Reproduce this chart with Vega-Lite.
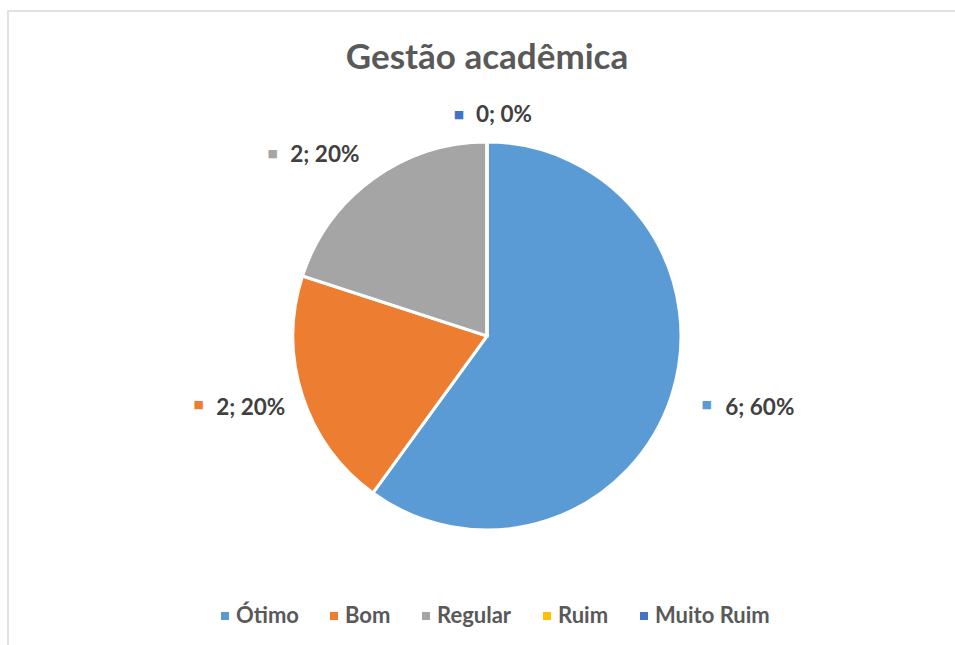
{
  "$schema": "https://vega.github.io/schema/vega-lite/v6.json",
  "width": 958,
  "height": 650,
  "autosize": {"type": "none"},
  "padding": {"left": 8, "top": 11, "right": -11, "bottom": -16},
  "background": "white",
  "view": {"stroke": "#D9D9D9", "strokeWidth": 1.5, "fill": "white"},
  "config": {"view": {"stroke": "#D9D9D9", "strokeWidth": 1.5}, "font": "Lato"},
  "title": {
    "text": "Gestão acadêmica",
    "font": "Lato",
    "fontSize": 35,
    "fontWeight": "bold",
    "color": "#595959",
    "anchor": "middle",
    "frame": "group",
    "offset": -93,
    "baseline": "alphabetic"
  },
  "data": {
    "values": [
      {"categoria": "Ótimo", "valor": 6, "rotulo": "6; 60%", "ordem": 1},
      {"categoria": "Bom", "valor": 2, "rotulo": "2; 20%", "ordem": 2},
      {"categoria": "Regular", "valor": 2, "rotulo": "2; 20%", "ordem": 3},
      {"categoria": "Ruim", "valor": 0, "rotulo": "0; 0%", "ordem": 4},
      {"categoria": "Muito Ruim", "valor": 0, "rotulo": "0; 0%", "ordem": 5}
    ]
  },
  "encoding": {
    "theta": {"field": "valor", "type": "quantitative", "stack": true},
    "order": {"field": "ordem", "type": "quantitative"},
    "color": {
      "field": "categoria",
      "type": "nominal",
      "scale": {
        "domain": ["Ótimo", "Bom", "Regular", "Ruim", "Muito Ruim"],
        "range": ["#5B9BD5", "#ED7D31", "#A5A5A5", "#FFC000", "#4472C4"]
      },
      "legend": {
        "orient": "none",
        "legendX": 206,
        "legendY": 594,
        "direction": "horizontal",
        "title": null,
        "symbolType": "square",
        "symbolSize": 64,
        "symbolStrokeWidth": 0,
        "labelFont": "Lato",
        "labelFontSize": 22,
        "labelFontWeight": "bold",
        "labelColor": "#595959",
        "labelOffset": 0,
        "columnPadding": 24
      }
    }
  },
  "layer": [
    {"mark": {"type": "arc", "outerRadius": 194, "stroke": "white", "strokeWidth": 3}},
    {
      "mark": {"type": "text", "font": "DejaVu Sans", "fontSize": 11, "radius": 270, "dx": -37, "dy": -14},
      "encoding": {"text": {"condition": {"test": "datum.categoria == 'Ótimo'", "value": "■"}, "value": ""}}
    },
    {
      "mark": {"type": "text", "radius": 270, "dx": 16, "dy": -11, "font": "Lato", "fontSize": 22.5, "fontWeight": "bold"},
      "encoding": {"text": {"condition": {"test": "datum.categoria == 'Ótimo'", "field": "rotulo"}, "value": ""}, "color": {"value": "#404040"}}
    },
    {
      "mark": {"type": "text", "font": "DejaVu Sans", "fontSize": 11, "radius": 260, "dx": -41, "dy": -11},
      "encoding": {"text": {"condition": {"test": "datum.categoria == 'Bom'", "value": "■"}, "value": ""}}
    },
    {
      "mark": {"type": "text", "radius": 260, "dx": 11, "dy": -8, "font": "Lato", "fontSize": 22.5, "fontWeight": "bold"},
      "encoding": {"text": {"condition": {"test": "datum.categoria == 'Bom'", "field": "rotulo"}, "value": ""}, "color": {"value": "#404040"}}
    },
    {
      "mark": {"type": "text", "font": "DejaVu Sans", "fontSize": 11, "radius": 230, "dx": -79, "dy": 4},
      "encoding": {"text": {"condition": {"test": "datum.categoria == 'Regular'", "value": "■"}, "value": ""}}
    },
    {
      "mark": {"type": "text", "radius": 230, "dx": -27, "dy": 5, "font": "Lato", "fontSize": 22.5, "fontWeight": "bold"},
      "encoding": {"text": {"condition": {"test": "datum.categoria == 'Regular'", "field": "rotulo"}, "value": ""}, "color": {"value": "#404040"}}
    },
    {
      "mark": {"type": "text", "font": "DejaVu Sans", "fontSize": 11, "radius": 221, "dx": -28, "dy": 0},
      "encoding": {"text": {"condition": {"test": "datum.categoria == 'Muito Ruim'", "value": "■"}, "value": ""}}
    },
    {
      "mark": {"type": "text", "radius": 221, "dx": 17, "dy": 0, "font": "Lato", "fontSize": 22.5, "fontWeight": "bold"},
      "encoding": {"text": {"condition": {"test": "datum.categoria == 'Muito Ruim'", "field": "rotulo"}, "value": ""}, "color": {"value": "#404040"}}
    }
  ]
}
